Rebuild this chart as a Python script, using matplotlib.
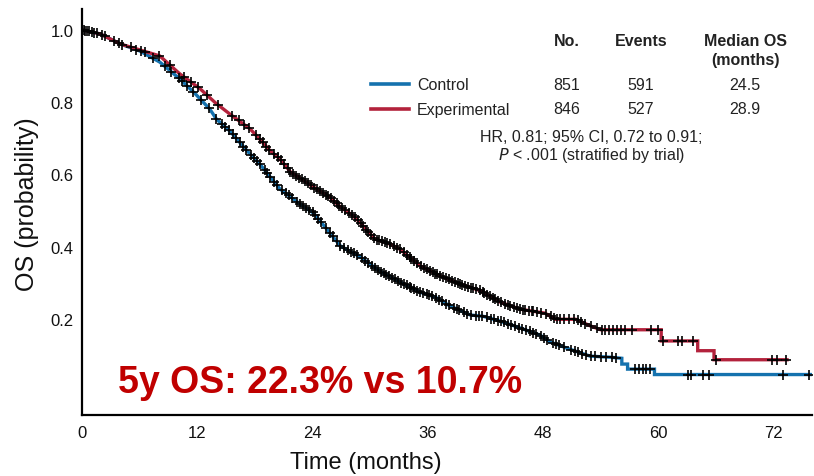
import numpy as np
import matplotlib
matplotlib.use("Agg")
import matplotlib.pyplot as plt
from matplotlib.lines import Line2D

# Kaplan-Meier overall survival, read as (month, probability) knots
control_t = [0, 1.9, 4.0, 6.0, 8.1, 10.2, 11.8, 13.3, 14.0, 15.4, 17.2, 18.5, 20.6,
             22.7, 24.1, 24.8, 26.9, 29.0, 31.0, 33.1, 35.2, 36.8, 38.3, 40.4, 41.8,
             43.5, 45.3, 47.7, 48.75, 50.8, 52.9, 55.0, 56.2, 56.2, 56.8, 56.8, 59.6,
             59.6, 76.0]
control_s = [1.0, 0.989, 0.961, 0.942, 0.911, 0.864, 0.823, 0.781, 0.753, 0.720, 0.665,
             0.629, 0.560, 0.518, 0.493, 0.471, 0.402, 0.371, 0.332, 0.302, 0.274, 0.260,
             0.236, 0.211, 0.207, 0.194, 0.178, 0.155, 0.136, 0.116, 0.097, 0.094, 0.091,
             0.075, 0.075, 0.061, 0.061, 0.046, 0.046]

exper_t = [0, 1.9, 4.0, 6.0, 8.1, 10.2, 12.3, 13.9, 15.4, 17.5, 18.5, 19.6, 20.6, 21.7,
           24.1, 25.8, 26.9, 28.2, 28.9, 30.5, 32.1, 33.1, 35.2, 37.3, 39.4, 41.5, 43.5,
           45.6, 48.2, 49.3, 51.4, 52.9, 54.0, 60.3, 60.3, 64.1, 64.1, 65.8, 65.8, 73.4]
exper_s = [1.0, 0.989, 0.961, 0.945, 0.928, 0.878, 0.837, 0.798, 0.767, 0.726, 0.698,
           0.665, 0.643, 0.607, 0.565, 0.537, 0.510, 0.486, 0.468, 0.421, 0.407, 0.393,
           0.347, 0.319, 0.296, 0.278, 0.247, 0.227, 0.216, 0.199, 0.199, 0.181, 0.170,
           0.170, 0.139, 0.139, 0.112, 0.112, 0.087, 0.087]

# Censoring times (months)
control_cens = [0.2, 0.5, 1.0, 1.6, 2.1, 3.3, 4.2, 5.6, 6.1, 7.4, 8.6, 9.3, 10.1, 10.4,
                10.9, 11.6, 12.4, 13.2, 14.0, 14.6, 14.9, 15.3, 15.7, 16.0, 16.4, 16.8,
                17.1, 17.6, 17.9, 18.2, 18.5, 19.0, 19.3, 19.6, 20.0, 20.3, 20.8, 21.2,
                21.5, 21.9, 22.4, 22.7, 23.0, 23.3, 23.6, 24.0, 24.3, 24.6, 24.9, 25.4,
                25.8, 26.1, 26.5, 26.9, 27.3, 27.7, 28.0, 28.3, 28.6, 29.1, 29.5, 29.8,
                30.2, 30.5, 30.8, 31.1, 31.4, 31.7, 32.0, 32.3, 32.6, 32.9, 33.2, 33.5,
                33.8, 34.1, 34.3, 34.6, 34.9, 35.2, 35.5, 35.9, 36.1, 36.4, 36.9, 37.2,
                37.5, 37.9, 38.2, 38.7, 39.0, 39.3, 39.8, 40.1, 40.5, 41.0, 41.3, 41.6,
                42.2, 42.6, 42.9, 43.3, 43.6, 43.9, 44.4, 44.7, 45.1, 45.5, 45.8, 46.2,
                46.6, 47.0, 47.3, 47.8, 48.1, 48.4, 49.0, 49.3, 49.7, 50.2, 50.9, 51.3,
                51.6, 52.1, 52.5, 53.0, 53.4, 54.0, 54.6, 55.2, 55.6, 57.6, 58.0, 58.4,
                58.7, 59.1, 63.1, 63.4, 64.7, 65.3, 73.0, 75.7]
exper_cens = [0.3, 0.7, 1.3, 2.4, 3.8, 5.1, 6.6, 8.0, 9.2, 10.6, 11.3, 12.1, 13.0, 14.2,
              15.6, 16.3, 16.9, 17.4, 18.1, 18.5, 18.8, 19.2, 19.5, 20.0, 20.4, 20.7,
              21.0, 21.4, 21.7, 22.0, 22.3, 22.6, 22.9, 23.2, 23.5, 23.8, 24.2, 24.5,
              24.8, 25.1, 25.4, 25.6, 25.9, 26.2, 26.5, 26.8, 27.1, 27.4, 27.8, 28.1,
              28.4, 28.7, 29.0, 29.3, 29.6, 29.8, 30.1, 30.4, 30.7, 30.9, 31.2, 31.5,
              31.8, 32.1, 32.5, 32.8, 33.1, 33.5, 33.8, 34.1, 34.3, 34.6, 34.9, 35.3,
              35.6, 35.9, 36.2, 36.5, 36.8, 37.0, 37.3, 37.6, 37.9, 38.2, 38.5, 38.8,
              39.1, 39.4, 39.6, 39.9, 40.2, 40.5, 40.7, 41.0, 41.4, 41.7, 41.9, 42.2,
              42.5, 42.8, 43.0, 43.3, 43.6, 44.0, 44.3, 44.6, 45.0, 45.3, 45.6, 45.9,
              46.1, 46.5, 46.8, 47.0, 47.4, 47.8, 48.3, 48.8, 49.1, 49.4, 49.8, 50.2,
              50.7, 51.2, 51.6, 52.0, 52.4, 53.0, 53.6, 54.1, 54.5, 54.9, 55.3, 55.7,
              56.1, 56.5, 57.3, 59.2, 60.0, 60.5, 62.0, 62.5, 63.6, 66.0, 71.8, 72.4,
              73.3]

x_ticks = [0, 12, 24, 36, 48, 60, 72]
y_ticks = [0.2, 0.4, 0.6, 0.8, 1.0]

groups = ["Control", "Experimental"]
n_pts = ["851", "846"]
events = ["591", "527"]
median_os = ["24.5", "28.9"]

BLUE = "#1572ae"
RED = "#b3223c"

W, H = 814, 477
fig = plt.figure(figsize=(W / 100, H / 100), dpi=100)


def fx(px):
    return px / W


def fy(py):
    return 1 - py / H


ax = fig.add_axes([fx(82), fy(416), fx(812) - fx(82), fy(10) - fy(416)])
ax.set_xlim(0, 76)
ax.set_ylim(-0.066, 1.058)

for t, s, cens, col in [(control_t, control_s, control_cens, BLUE),
                        (exper_t, exper_s, exper_cens, RED)]:
    ax.plot(t, s, color=col, lw=2.4, solid_joinstyle="miter", zorder=2)
    # place each censor tick on its own curve
    ct = np.asarray(cens)
    tt = np.asarray(t)
    ss = np.asarray(s)
    cy = np.array([ss[np.searchsorted(tt, c, side="right") - 1]
                   if c >= tt[-1] else np.interp(c, tt, ss) for c in ct])
    ax.plot(ct, cy, ls="none", marker="+", color="black", ms=7.5, mew=1.2, zorder=3)

for side in ["top", "right"]:
    ax.spines[side].set_visible(False)
for side in ["left", "bottom"]:
    ax.spines[side].set_linewidth(1.6)

ax.set_xticks(x_ticks)
ax.set_xticklabels([str(v) for v in x_ticks])
ax.set_yticks(y_ticks)
ax.set_yticklabels([f"{v:.1f}" for v in y_ticks])
ax.tick_params(length=0, labelsize=12, pad=7)
ax.tick_params(axis="y", pad=6)
for lab in ax.get_xticklabels() + ax.get_yticklabels():
    lab.set_family("Liberation Sans")
    lab.set_color("#111111")

fig.text(fx(366), fy(463), "Time (months)", ha="center", va="center",
         fontsize=17, family="Liberation Sans", color="#111111")
fig.text(fx(27), fy(204), "OS (probability)", ha="center", va="center",
         rotation=90, fontsize=18, family="Liberation Sans", color="#111111")

fig.text(fx(118), fy(393), "5y OS: 22.3% vs 10.7%", ha="left", va="baseline",
         fontsize=27, fontweight="bold", color="#c00000", family="Liberation Sans")

# summary table
tf = dict(family="Liberation Sans", fontsize=11.5, color="#222222")
col_x = [fx(567), fx(641), fx(745)]
fig.text(col_x[0], fy(42), "No.", ha="center", va="center", fontweight="bold", **tf)
fig.text(col_x[1], fy(42), "Events", ha="center", va="center", fontweight="bold", **tf)
fig.text(col_x[2], fy(42), "Median OS", ha="center", va="center", fontweight="bold", **tf)
fig.text(col_x[2], fy(60), "(months)", ha="center", va="center", fontweight="bold", **tf)

for i, (g, col) in enumerate(zip(groups, [BLUE, RED])):
    yy = fy(85 + 25 * i)
    fig.add_artist(Line2D([fx(371), fx(409)], [yy, yy], color=col, lw=2.6,
                          transform=fig.transFigure))
    fig.text(fx(417), yy, g, ha="left", va="center", **tf)
    fig.text(col_x[0], yy, n_pts[i], ha="center", va="center", **tf)
    fig.text(col_x[1], yy, events[i], ha="center", va="center", **tf)
    fig.text(col_x[2], yy, median_os[i], ha="center", va="center", **tf)

fig.text(fx(591), fy(137), "HR, 0.81; 95% CI, 0.72 to 0.91;", ha="center",
         va="center", **tf)
fig.text(fx(592), fy(156), r"$\it{P}$ < .001 (stratified by trial)", ha="center",
         va="center", **tf)

fig.savefig("out.png", dpi=100)
